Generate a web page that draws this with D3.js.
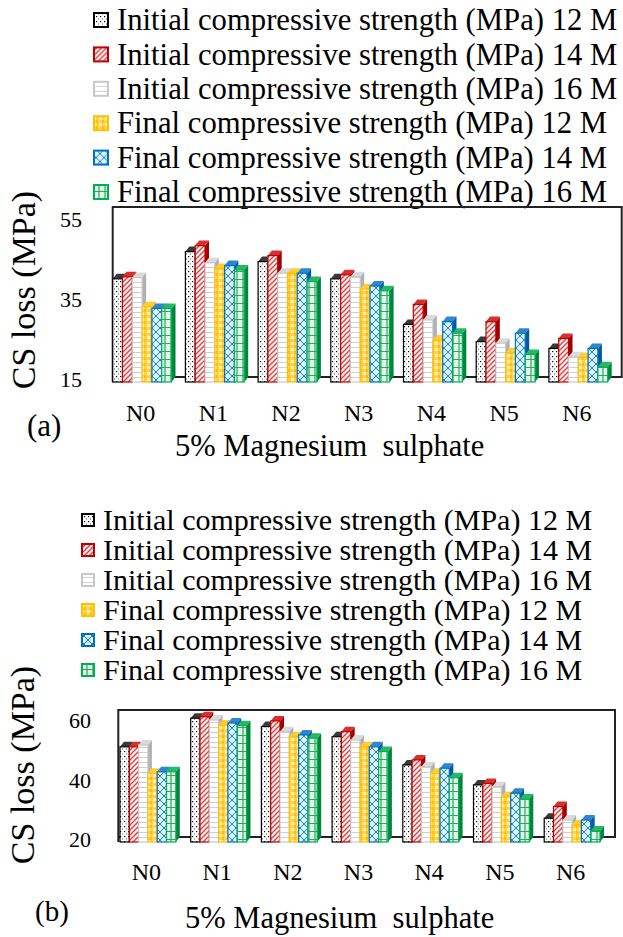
<!DOCTYPE html>
<html>
<head>
<meta charset="utf-8">
<style>
  body { margin: 0; background: #fff; }
  svg text { font-family: "Liberation Serif", "Times New Roman", serif; fill: #000; }
</style>
</head>
<body>
<svg id="chart" width="623" height="937"></svg>
<script src="https://cdnjs.cloudflare.com/ajax/libs/d3/7.8.5/d3.min.js"></script>
<script>
// categories and series
var categories = ["N0", "N1", "N2", "N3", "N4", "N5", "N6"];
var seriesLabels = [
  "Initial compressive strength (MPa) 12 M",
  "Initial compressive strength (MPa) 14 M",
  "Initial compressive strength (MPa) 16 M",
  "Final compressive strength (MPa) 12 M",
  "Final compressive strength (MPa) 14 M",
  "Final compressive strength (MPa) 16 M"
];

// (a) values
var aInitial12 = [40.8, 47.6, 45.1, 40.8, 29.4, 25.1, 23.4];
var aInitial14 = [41.3, 49.1, 46.6, 41.8, 34.4, 30.1, 25.9];
var aInitial16 = [41.1, 44.8, 42.2, 41.3, 30.5, 24.7, 21.3];
var aFinal12   = [33.8, 43.4, 42.2, 38.3, 25.5, 22.3, 21.1];
var aFinal14   = [33.4, 44.1, 42.2, 39.0, 30.1, 27.2, 23.4];
var aFinal16   = [33.4, 43.0, 40.1, 37.8, 27.2, 21.9, 18.8];

// (b) values
var bInitial12 = [52.0, 61.6, 58.8, 55.4, 45.9, 39.2, 28.0];
var bInitial14 = [52.0, 62.1, 60.7, 57.1, 47.6, 39.7, 31.9];
var bInitial16 = [52.6, 61.0, 57.1, 54.3, 45.3, 38.6, 27.4];
var bFinal12   = [43.1, 59.3, 55.4, 52.0, 43.1, 35.2, 25.7];
var bFinal14   = [43.6, 60.0, 56.0, 52.0, 44.8, 36.4, 27.4];
var bFinal16   = [43.6, 59.1, 54.9, 50.4, 41.6, 34.5, 23.7];

var ticksA = [15, 35, 55];
var ticksB = [20, 40, 60];

// styles per series
var strokeCol = ["#000000", "#c00000", "#c8c8c8", "#ffc000", "#0070c0", "#00b050"];
var topCol    = ["#3a3a3a", "#d83030", "#dadada", "#ffcc33", "#2e86d0", "#26b866"];
var sideCol   = ["#1a1a1a", "#a00000", "#b0b0b0", "#e0a800", "#005a9e", "#00853c"];

var svg = d3.select("#chart");
var defs = svg.append("defs");

// fill patterns
function pat(id, w, h, bg) {
  var p = defs.append("pattern").attr("id", id)
    .attr("patternUnits", "userSpaceOnUse").attr("width", w).attr("height", h);
  p.append("rect").attr("width", w).attr("height", h).attr("fill", bg);
  return p;
}
var p0 = pat("p0", 4, 5, "#ffffff");
p0.append("rect").attr("x", 0).attr("y", 1).attr("width", 1.2).attr("height", 1.2).attr("fill", "#000");
p0.append("rect").attr("x", 2).attr("y", 3.5).attr("width", 1).attr("height", 1).attr("fill", "#555");
var p1 = pat("p1", 5, 5, "#fff4f4");
p1.append("path").attr("d", "M-1,6 L6,-1 M-1,1 L1,-1 M4,6 L6,4").attr("stroke", "#e04040").attr("stroke-width", 1.4);
var p2 = pat("p2", 5, 5, "#ffffff");
p2.append("rect").attr("y", 2).attr("width", 5).attr("height", 1).attr("fill", "#d0d0d0");
var p3 = pat("p3", 6, 6, "#ffd24a");
p3.append("rect").attr("x", 3).attr("y", 0).attr("width", 3).attr("height", 3).attr("fill", "#fff0c0");
p3.append("rect").attr("x", 0).attr("y", 3).attr("width", 2).attr("height", 3).attr("fill", "#ffc000");
var p4 = pat("p4", 8, 8, "#d6f3fb");
p4.append("path").attr("d", "M0,0 L8,8 M8,0 L0,8").attr("stroke", "#2a7fc8").attr("stroke-width", 1);
var p5 = pat("p5", 6, 8, "#e6f6ec");
p5.append("path").attr("d", "M3,0 L3,8 M0,7.5 L6,7.5").attr("stroke", "#1fae5a").attr("stroke-width", 1.2);
var fills = ["url(#p0)", "url(#p1)", "url(#p2)", "url(#p3)", "url(#p4)", "url(#p5)"];

function drawChart(cfg) {
  var g = svg.append("g");

  // legend
  var leg = g.selectAll("g.leg").data(seriesLabels).enter().append("g")
    .attr("transform", function(d, i) { return "translate(0," + (cfg.legY + i * cfg.legStep) + ")"; });
  leg.append("rect")
    .attr("x", cfg.swX).attr("y", -cfg.sw / 2).attr("width", cfg.sw).attr("height", cfg.sw)
    .attr("fill", function(d, i) { return fills[i]; })
    .attr("stroke", function(d, i) { return strokeCol[i]; }).attr("stroke-width", 2);
  leg.append("text")
    .attr("x", cfg.legTextX).attr("y", cfg.legFont * 0.33)
    .style("font-size", cfg.legFont + "px")
    .text(function(d) { return d; });

  var y = d3.scaleLinear().domain(cfg.yDomain).range(cfg.yRange);
  var x = d3.scaleBand().domain(categories).range([cfg.bandLeft, cfg.bandRight]);
  var floorY = y(cfg.yDomain[0]);

  // back wall frame
  g.append("path")
    .attr("d", "M" + cfg.left + "," + (floorY + cfg.dy) + " L" + cfg.left + "," + y(cfg.yTop) +
      " L" + cfg.right + "," + y(cfg.yTop) + " L" + cfg.right + "," + floorY + " L" + cfg.left + "," + floorY)
    .attr("fill", "none").attr("stroke", "#222").attr("stroke-width", 2);

  // bars
  var w = cfg.w, dx = cfg.dx, dy = cfg.dy;
  var base = floorY + dy;
  categories.forEach(function(c, ci) {
    cfg.series.forEach(function(vals, si) {
      var x0 = x(c) + si * w;
      var yf = y(vals[ci]) + dy;
      var bar = g.append("g");
      bar.append("polygon")
        .attr("points", [[x0 + w, yf], [x0 + w + dx, yf - dy], [x0 + w + dx, base - dy], [x0 + w, base]].join(" "))
        .attr("fill", sideCol[si]);
      bar.append("polygon")
        .attr("points", [[x0, yf], [x0 + dx, yf - dy], [x0 + w + dx, yf - dy], [x0 + w, yf]].join(" "))
        .attr("fill", topCol[si]);
      bar.append("rect")
        .attr("x", x0).attr("y", yf).attr("width", w).attr("height", base - yf)
        .attr("fill", fills[si]).attr("stroke", strokeCol[si]).attr("stroke-width", 1.2);
    });
  });

  // y tick labels
  var ax = g.append("g").attr("transform", "translate(" + cfg.tickX + ",0)")
    .call(d3.axisLeft(y).tickValues(cfg.ticks).tickSize(0).tickPadding(0));
  ax.select(".domain").remove();
  ax.selectAll("text")
    .attr("dy", null).attr("y", cfg.tickShift).attr("dominant-baseline", "middle")
    .style("font-size", cfg.tickFont + "px").style("font-family", "Liberation Serif, Times New Roman, serif")
    .attr("fill", "#000");

  // category labels
  g.selectAll("text.cat").data(categories).enter().append("text")
    .attr("x", function(d) { return x(d) + 3 * w - 1.5; })
    .attr("y", cfg.catY).attr("text-anchor", "middle")
    .style("font-size", cfg.catFont + "px")
    .text(function(d) { return d; });

  // axis title
  g.append("text")
    .attr("transform", "translate(" + cfg.yTitleX + "," + cfg.yTitleY + ") rotate(-90)")
    .attr("text-anchor", "middle").style("font-size", "34px")
    .text("CS loss (MPa)");

  g.append("text").attr("x", cfg.titleX).attr("y", cfg.titleY)
    .style("font-size", "30.5px").style("white-space", "pre")
    .text("5% Magnesium  sulphate");

  g.append("text").attr("x", cfg.tagX).attr("y", cfg.tagY)
    .style("font-size", cfg.tagFont + "px").text(cfg.tag);
}

drawChart({
  series: [aInitial12, aInitial14, aInitial16, aFinal12, aFinal14, aFinal16],
  ticks: ticksA, yDomain: [15, 55], yRange: [377, 217], yTop: 57.5,
  legY: 20, legStep: 34.4, legFont: 30.7, sw: 14, swX: 94, legTextX: 117,
  left: 112.7, right: 621.7, bandLeft: 112.7, bandRight: 621.6,
  w: 9.8, dx: 4, dy: 5,
  tickX: 82, tickShift: 4, tickFont: 22,
  catY: 421, catFont: 24,
  yTitleX: 35, yTitleY: 290,
  titleX: 175, titleY: 456,
  tagX: 27, tagY: 436, tag: "(a)", tagFont: 31
});

drawChart({
  series: [bInitial12, bInitial14, bInitial16, bFinal12, bFinal14, bFinal16],
  ticks: ticksB, yDomain: [20, 60], yRange: [837, 718], yTop: 62.7,
  legY: 520, legStep: 30, legFont: 30, sw: 12, swX: 82, legTextX: 103,
  left: 118.3, right: 615, bandLeft: 120, bandRight: 614.9,
  w: 9.3, dx: 4, dy: 5,
  tickX: 91, tickShift: 4.5, tickFont: 22,
  catY: 880, catFont: 24,
  yTitleX: 34, yTitleY: 765,
  titleX: 185, titleY: 928,
  tagX: 35, tagY: 921, tag: "(b)", tagFont: 29
});
</script>
</body>
</html>
